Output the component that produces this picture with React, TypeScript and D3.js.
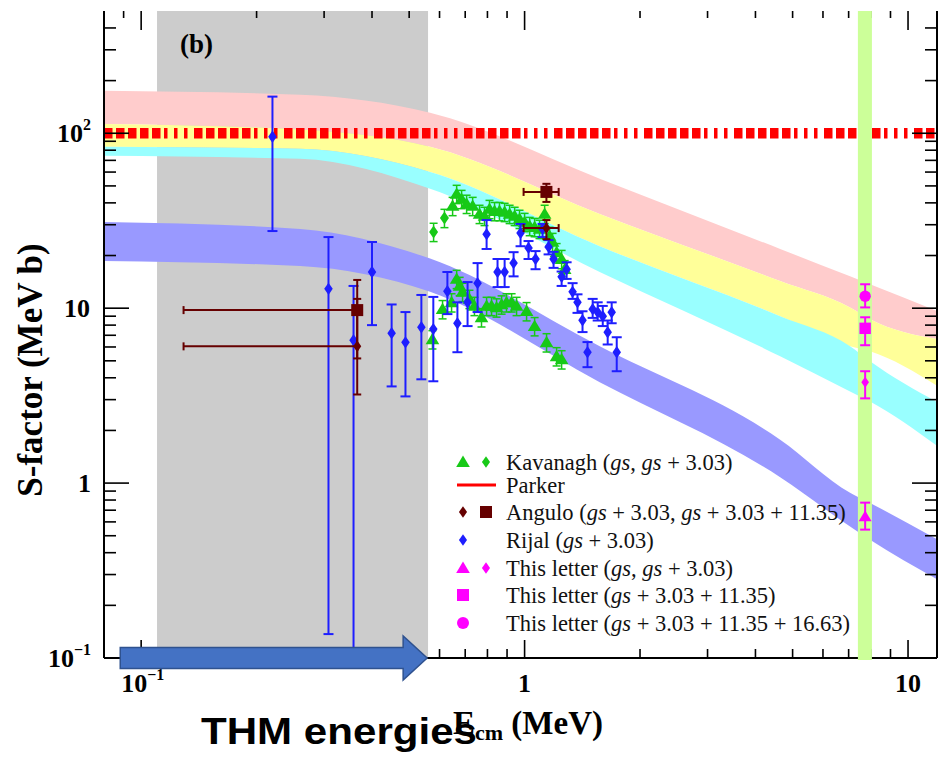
import * as d3 from "d3";

// theory bands, edges read along this energy grid (MeV)
const bandEnergy = [0.08, 0.26, 0.567, 1.57, 4.64, 7.06, 7.96, 11.97];
const pinkHigh = [175, 166, 131, 55, 21.8, 15.2, 13.7, 9.6];
const yellowHigh = [113, 105, 83.7, 34.6, 14.3, 10.1, 8.65, 6.64];
const yellowLow = [83.7, 81.5, 60.1, 22.6, 9.0, 6.06, 5.67, 3.57];
const cyanHigh = [83.7, 81.5, 60.1, 22.6, 9.0, 6.06, 4.97, 2.89];
const cyanLow = [74.3, 71.4, 48.1, 16.1, 5.31, 3.34, 2.93, 1.62];
const blueHigh = [31.1, 28.4, 19.2, 6.05, 1.77, 0.88, 0.77, 0.474];
const blueLow = [18.6, 17.4, 12.4, 3.77, 1.08, 0.564, 0.474, 0.28];

const parkerS = 100;
const thmRange = [0.11, 0.56];
const letterBand = [7.4, 8.05];

// Kavanagh
const kavDiamondE = [0.579, 0.618];
const kavDiamondS = [27.3, 32.8];
const kavUpperE = [0.649, 0.665, 0.685, 0.706, 0.732, 0.763, 0.786, 0.81, 0.835, 0.86, 0.887, 0.914, 0.942, 0.97, 1.0, 1.031, 1.062, 1.094, 1.128, 1.162, 1.183, 1.212, 1.249, 1.272];
const kavUpperS = [38.4, 45.0, 42.1, 39.5, 38.4, 34.6, 33.7, 36.9, 35.9, 35.9, 35.5, 34.6, 33.7, 32.4, 31.1, 29.5, 29.1, 28.4, 34.6, 25.9, 23.9, 20.9, 19.1, 16.7];
const kavLowerE = [0.575, 0.611, 0.645, 0.665, 0.677, 0.689, 0.718, 0.74, 0.772, 0.796, 0.82, 0.845, 0.871, 0.897, 0.925, 0.953, 1.012, 1.062, 1.141, 1.212, 1.249];
const kavLowerS = [6.64, 9.87, 10.8, 14.7, 13.4, 12.4, 11.3, 10.3, 8.87, 10.3, 10.3, 10.1, 10.5, 10.8, 10.8, 10.3, 9.61, 7.89, 6.38, 5.31, 5.1];
const kavRelErr = 0.12;

// Rijal
const rijalE = [0.22, 0.308, 0.358, 0.4, 0.45, 0.489, 0.538, 0.578, 0.629, 0.668, 0.71, 0.754, 0.796, 0.85, 0.887, 0.936, 0.976, 1.024, 1.068, 1.114, 1.155, 1.19, 1.249, 1.287, 1.334, 1.374, 1.416, 1.459, 1.505, 1.551, 1.599, 1.647, 1.687, 1.739];
const rijalS = [95.5, 12.9, 6.56, 16.1, 7.2, 6.38, 7.78, 7.59, 12.5, 8.2, 10.8, 13.9, 26.5, 16.1, 16.1, 18.1, 26.9, 22.1, 19.1, 28.4, 22.4, 19.1, 15.1, 16.7, 12.4, 10.8, 8.53, 5.6, 9.87, 9.48, 9.0, 7.28, 9.48, 5.6];
const rijalLow = [27.6, 0.137, 0.05, 8.0, 3.57, 3.13, 3.92, 3.82, 9.25, 5.6, 7.9, 9.5, 21.8, 13.2, 13.2, 15.2, 22.6, 19.1, 16.7, 25.5, 20.3, 17.0, 13.4, 14.7, 11.3, 9.4, 7.3, 4.6, 8.8, 8.5, 7.9, 6.2, 8.2, 4.36];
const rijalHigh = [162, 25.5, 13.4, 23.9, 10.5, 9.5, 11.9, 11.6, 16.1, 10.8, 14.1, 18.1, 31.9, 19.1, 19.1, 20.9, 30.3, 24.2, 21.2, 30.3, 24.5, 21.0, 16.2, 18.3, 13.9, 12.0, 9.6, 6.4, 11.3, 10.8, 10.3, 8.5, 10.8, 6.82];

// Angulo
const angE = [0.366, 1.14];
const angELow = [0.129, 0.994];
const angEHigh = [0.366, 1.227];
const angSquareS = [9.75, 46.2];
const angSquareLow = [5.16, 40.5];
const angSquareHigh = [14.5, 51.4];
const angDiamondS = [6.05, 28.7];
const angDiamondLow = [3.21, 24.8];
const angDiamondHigh = [11.3, 31.9];

// This letter
const letterE = 7.73;
const letterShapes = ["circle", "square", "diamond", "triangle"];
const letterS = [11.7, 7.67, 3.77, 0.643];
const letterLow = [10.1, 6.14, 3.05, 0.542];
const letterHigh = [13.7, 8.87, 4.36, 0.773];

// THM arrow (energy span)
const arrowE = [0.0882, 0.557];

const serif = "'Liberation Serif', 'Times New Roman', serif";
const GREEN = "#17c917";
const BLUE = "#1e1eff";
const DRED = "#660000";
const MAG = "#ff00ff";

const diamond = (w: number, h: number) => `M0,${-h}L${w},0L0,${h}L${-w},0Z`;
const triangle = (s: number) => `M0,${-s}L${s * 1.05},${s * 0.75}L${-s * 1.05},${s * 0.75}Z`;

function Marker({ shape, cx, cy, color, s = 1 }: any) {
  const t = `translate(${cx},${cy})`;
  if (shape === "diamond") return <path transform={t} d={diamond(4.5 * s, 6.5 * s)} fill={color} />;
  if (shape === "triangle") return <path transform={t} d={triangle(6.5 * s)} fill={color} />;
  if (shape === "square") return <rect x={cx - 6 * s} y={cy - 6 * s} width={12 * s} height={12 * s} fill={color} />;
  return <circle cx={cx} cy={cy} r={6 * s} fill={color} />;
}

function VErr({ cx, y1, y2, color, cap = 5, w = 2 }: any) {
  return (
    <g stroke={color} strokeWidth={w}>
      <line x1={cx} x2={cx} y1={y1} y2={y2} />
      <line x1={cx - cap} x2={cx + cap} y1={y1} y2={y1} />
      <line x1={cx - cap} x2={cx + cap} y1={y2} y2={y2} />
    </g>
  );
}

export default function App() {
  const x = d3.scaleLog().domain([0.08, 11.9]).range([104, 937]);
  const y = d3.scaleLog().domain([0.1, 500]).range([658, 11]);
  const [left, right] = x.range();
  const [bottom, top] = y.range();

  const band = (hi: number[], lo: number[]) =>
    d3
      .area<number>()
      .x((d) => x(d))
      .y0((_, i) => y(lo[i]))
      .y1((_, i) => y(hi[i]))
      .curve(d3.curveMonotoneX)(bandEnergy) as string;

  const isMajor = (v: number) => Math.abs(Math.log10(v) - Math.round(Math.log10(v))) < 1e-6;
  const xTicks = x.ticks().filter((v) => x(v) > left + 1 && x(v) < right - 1);
  const yTicks = y.ticks().filter((v) => y(v) < bottom - 1 && y(v) > top + 1);

  const parkerDash = "8.5,3.5,8.5,3.5,8.5,3.5,8.5,3.5,8.5,3.5,3.5,6.5,3.5,6.5,3.5,6.5";

  const ay = y(0.1);
  const ax0 = x(arrowE[0]);
  const ax1 = x(arrowE[1]);
  const arrowPts = [
    [ax0, ay - 10.5],
    [ax1 - 24, ay - 10.5],
    [ax1 - 24, ay - 22],
    [ax1, ay],
    [ax1 - 24, ay + 22],
    [ax1 - 24, ay + 10.5],
    [ax0, ay + 10.5],
  ];

  const legendX = 463;
  const legendX2 = 486;
  const legendRows = [462, 485, 512, 540, 568, 595, 623];
  const legendText = [
    ["Kavanagh ", "(", "gs", ", ", "gs", " + 3.03)"],
    ["Parker"],
    ["Angulo ", "(", "gs", " + 3.03, ", "gs", " + 3.03 + 11.35)"],
    ["Rijal ", "(", "gs", " + 3.03)"],
    ["This letter ", "(", "gs", ", ", "gs", " + 3.03)"],
    ["This letter ", "(", "gs", " + 3.03 + 11.35)"],
    ["This letter ", "(", "gs", " + 3.03 + 11.35 + 16.63)"],
  ];

  return (
    <svg
      width={938}
      height={757}
      style={{ position: "absolute", left: 0, top: 0, background: "#fff" }}
      fontFamily={serif}
    >
      <defs>
        <clipPath id="plot">
          <rect x={left} y={top} width={right - left} height={bottom - top} />
        </clipPath>
      </defs>

      <g clipPath="url(#plot)">
        <rect x={x(thmRange[0])} y={top} width={x(thmRange[1]) - x(thmRange[0])} height={bottom - top} fill="#cccccc" />
        <path d={band(pinkHigh, yellowHigh)} fill="#ffcccc" />
        <path d={band(yellowHigh, yellowLow)} fill="#ffff99" />
        <path d={band(cyanHigh, cyanLow)} fill="#99ffff" />
        <path d={band(blueHigh, blueLow)} fill="#9999ff" />

        <line x1={left} x2={right} y1={y(parkerS)} y2={y(parkerS)} stroke="#ff0000" strokeWidth={10.5} strokeDasharray={parkerDash} />

        {/* Kavanagh */}
        {kavLowerE.map((e, i) => (
          <g key={"kl" + i}>
            <VErr cx={x(e)} y1={y(kavLowerS[i] * (1 + kavRelErr))} y2={y(kavLowerS[i] * (1 - kavRelErr))} color={GREEN} cap={4} w={1.5} />
            <Marker shape="triangle" cx={x(e)} cy={y(kavLowerS[i])} color={GREEN} />
          </g>
        ))}
        {kavUpperE.map((e, i) => (
          <g key={"ku" + i}>
            <VErr cx={x(e)} y1={y(kavUpperS[i] * (1 + kavRelErr))} y2={y(kavUpperS[i] * (1 - kavRelErr))} color={GREEN} cap={4} w={1.5} />
            <Marker shape="triangle" cx={x(e)} cy={y(kavUpperS[i])} color={GREEN} />
          </g>
        ))}
        {kavDiamondE.map((e, i) => (
          <g key={"kd" + i}>
            <VErr cx={x(e)} y1={y(kavDiamondS[i] * (1 + kavRelErr))} y2={y(kavDiamondS[i] * (1 - kavRelErr))} color={GREEN} cap={4} w={1.5} />
            <Marker shape="diamond" cx={x(e)} cy={y(kavDiamondS[i])} color={GREEN} />
          </g>
        ))}

        {/* Rijal */}
        {rijalE.map((e, i) => (
          <g key={"r" + i}>
            <VErr cx={x(e)} y1={y(rijalHigh[i])} y2={y(rijalLow[i])} color={BLUE} cap={5} w={2} />
            <Marker shape="diamond" cx={x(e)} cy={y(rijalS[i])} color={BLUE} s={0.95} />
          </g>
        ))}

        {/* Angulo */}
        {angE.map((e, i) => (
          <g key={"a" + i} stroke={DRED} strokeWidth={2}>
            <line x1={x(angELow[i])} x2={x(angEHigh[i])} y1={y(angSquareS[i])} y2={y(angSquareS[i])} />
            <line x1={x(angELow[i])} x2={x(angELow[i])} y1={y(angSquareS[i]) - 4} y2={y(angSquareS[i]) + 4} />
            <line x1={x(angEHigh[i])} x2={x(angEHigh[i])} y1={y(angSquareS[i]) - 4} y2={y(angSquareS[i]) + 4} />
            <line x1={x(angELow[i])} x2={x(angEHigh[i])} y1={y(angDiamondS[i])} y2={y(angDiamondS[i])} />
            <line x1={x(angELow[i])} x2={x(angELow[i])} y1={y(angDiamondS[i]) - 4} y2={y(angDiamondS[i]) + 4} />
            <line x1={x(angEHigh[i])} x2={x(angEHigh[i])} y1={y(angDiamondS[i]) - 4} y2={y(angDiamondS[i]) + 4} />
            <VErr cx={x(e)} y1={y(angSquareHigh[i])} y2={y(angSquareLow[i])} color={DRED} cap={4} w={2} />
            <VErr cx={x(e)} y1={y(angDiamondHigh[i])} y2={y(angDiamondLow[i])} color={DRED} cap={4} w={2} />
            <g stroke="none">
              <Marker shape="square" cx={x(e)} cy={y(angSquareS[i])} color={DRED} />
              <Marker shape="diamond" cx={x(e)} cy={y(angDiamondS[i])} color={DRED} s={0.9} />
            </g>
          </g>
        ))}
      </g>

      {/* frame and ticks */}
      <g stroke="#000" fill="none">
        <line x1={left} x2={left} y1={top} y2={bottom} strokeWidth={2} />
        <line x1={right} x2={right} y1={top} y2={bottom} strokeWidth={2} />
        <line x1={left} x2={right} y1={bottom} y2={bottom} strokeWidth={2} />
        {yTicks.map((v) => {
          const L = isMajor(v) ? 25 : 12;
          return (
            <g key={"yt" + v} strokeWidth={1.6}>
              <line x1={left} x2={left + L} y1={y(v)} y2={y(v)} />
              <line x1={right} x2={right - L} y1={y(v)} y2={y(v)} />
            </g>
          );
        })}
        {xTicks.map((v) => {
          const major = isMajor(v);
          return (
            <g key={"xt" + v} strokeWidth={1.6}>
              <line x1={x(v)} x2={x(v)} y1={bottom} y2={bottom - (major ? 18 : 9)} />
              <line x1={x(v)} x2={x(v)} y1={top} y2={top + (major ? 19 : 7)} />
            </g>
          );
        })}
      </g>

      {/* green band of this letter */}
      <rect x={x(letterBand[0])} y={top} width={x(letterBand[1]) - x(letterBand[0])} height={bottom - top + 2} fill="#ccff99" />
      {letterS.map((s, i) => (
        <g key={"l" + i}>
          <VErr cx={x(letterE)} y1={y(letterHigh[i])} y2={y(letterLow[i])} color={MAG} cap={5} w={2} />
          <Marker shape={letterShapes[i]} cx={x(letterE)} cy={y(s)} color={MAG} s={letterShapes[i] === "diamond" ? 0.85 : 0.95} />
        </g>
      ))}

      {/* tick labels */}
      <g fontWeight="bold" fontSize={26} fill="#000">
        <text x={91} y={y(100) + 9} textAnchor="end">
          10<tspan fontSize={16} dy={-12}>2</tspan>
        </text>
        <text x={90} y={y(10) + 9} textAnchor="end">10</text>
        <text x={91} y={y(1) + 9} textAnchor="end">1</text>
        <text x={91} y={y(0.1) + 9} textAnchor="end">
          10<tspan fontSize={16} dy={-12}>−1</tspan>
        </text>
        <text x={x(0.1) - 20} y={692}>
          10<tspan fontSize={16} dy={-12}>−1</tspan>
        </text>
        <text x={x(1)} y={692} textAnchor="middle">1</text>
        <text x={x(10)} y={692} textAnchor="middle">10</text>
      </g>

      <text x={180} y={53} fontSize={27} fontWeight="bold">(b)</text>

      <text transform="translate(42,370) rotate(-90)" textAnchor="middle" fontSize={35} fontWeight="bold">
        S-factor (MeV b)
      </text>

      <text x={453} y={734} fontSize={33} fontWeight="bold">
        E<tspan fontSize={22} dy={6}>cm</tspan>
        <tspan fontSize={33} dy={-6}> (MeV)</tspan>
      </text>

      {/* legend */}
      <g>
        <Marker shape="triangle" cx={legendX} cy={legendRows[0]} color={GREEN} />
        <Marker shape="diamond" cx={legendX2} cy={legendRows[0]} color={GREEN} s={0.9} />
        <line x1={457} x2={496} y1={legendRows[1]} y2={legendRows[1]} stroke="#ff0000" strokeWidth={3} />
        <Marker shape="diamond" cx={legendX} cy={legendRows[2]} color={DRED} s={0.9} />
        <Marker shape="square" cx={legendX2} cy={legendRows[2]} color={DRED} />
        <Marker shape="diamond" cx={legendX} cy={legendRows[3]} color={BLUE} s={0.9} />
        <Marker shape="triangle" cx={legendX} cy={legendRows[4]} color={MAG} />
        <Marker shape="diamond" cx={legendX2} cy={legendRows[4]} color={MAG} s={0.9} />
        <Marker shape="square" cx={legendX} cy={legendRows[5]} color={MAG} />
        <Marker shape="circle" cx={legendX} cy={legendRows[6]} color={MAG} />
        {legendText.map((parts, i) => (
          <text key={"lt" + i} x={506} y={legendRows[i] + 8} fontSize={22.5} fill="#111">
            {parts.map((p, j) => (
              <tspan key={j} fontStyle={p === "gs" ? "italic" : "normal"}>
                {p}
              </tspan>
            ))}
          </text>
        ))}
      </g>

      {/* THM annotation */}
      <polygon points={arrowPts.map((p) => p.join(",")).join(" ")} fill="#4472c4" stroke="#2f528f" strokeWidth={1.5} />
      <text
        x={201}
        y={744}
        fontFamily="'Liberation Sans', Arial, sans-serif"
        fontWeight="bold"
        fontSize={36}
        textLength={276}
        lengthAdjust="spacingAndGlyphs"
        fill="#000"
      >
        THM energies
      </text>
    </svg>
  );
}
